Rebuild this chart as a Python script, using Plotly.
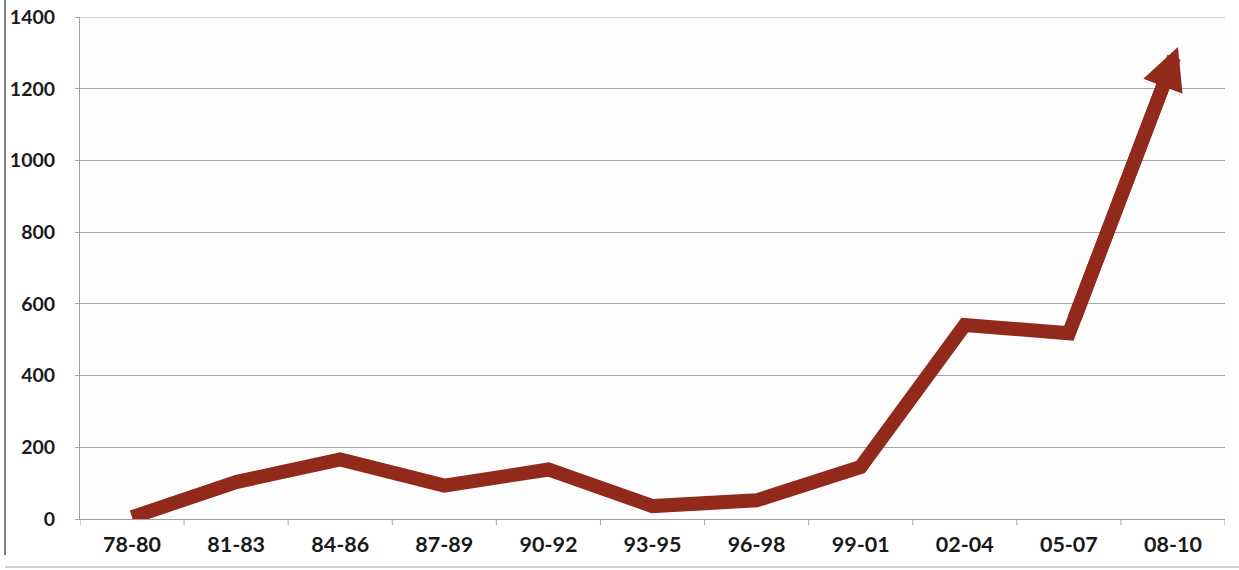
import plotly.graph_objects as go

# Three-year periods and the counts for each
periods = ["78-80", "81-83", "84-86", "87-89", "90-92", "93-95",
           "96-98", "99-01", "02-04", "05-07", "08-10"]
counts = [5, 103, 166, 93, 138, 36, 52, 145, 541, 518, 1280]

y_ticks = [0, 200, 400, 600, 800, 1000, 1200, 1400]

LINE_COLOR = "#922a1c"
LINE_W = 14
GRID = "#a3a3b0"
AXIS = "#a0a0a8"

W, H = 1239, 570
M = dict(l=80, r=14, t=17, b=51)

fig = go.Figure()
fig.add_trace(go.Scatter(
    x=list(range(len(periods))), y=counts, mode="lines",
    line=dict(color=LINE_COLOR, width=LINE_W), hoverinfo="skip",
    showlegend=False,
))

# Arrowhead on the final segment, pushed slightly past the last point
plot_w = W - M["l"] - M["r"]
plot_h = H - M["t"] - M["b"]
dx_px = plot_w / len(periods)
dy_px = (counts[-1] - counts[-2]) * plot_h / y_ticks[-1]
seg = (dx_px ** 2 + dy_px ** 2) ** 0.5
push = 14
fig.add_annotation(
    x=len(periods) - 1, y=counts[-1], ax=len(periods) - 2, ay=counts[-2],
    xref="x", yref="y", axref="x", ayref="y", text="",
    showarrow=True, arrowhead=2, arrowsize=0.6, arrowwidth=LINE_W,
    arrowcolor=LINE_COLOR,
    xshift=push * dx_px / seg, yshift=push * dy_px / seg,
)

fig.update_xaxes(
    type="linear", range=[-0.5, len(periods) - 0.5],
    tickmode="array", tickvals=list(range(len(periods))), ticktext=periods,
    showgrid=False, zeroline=False, automargin=False,
    showline=True, linecolor=AXIS, linewidth=1,
    ticks="", ticklabelstandoff=6,
    tickfont=dict(family="Lato", size=21.5, color="#1a1a1a", weight="bold"),
)
# boundary tick marks between periods
for i in range(len(periods) + 1):
    fig.add_shape(type="line", xref="x", yref="paper",
                  x0=i - 0.5, x1=i - 0.5, y0=0, y1=-6 / plot_h,
                  line=dict(color=AXIS, width=1))

fig.update_yaxes(
    range=[0, y_ticks[-1]], tickmode="array", tickvals=y_ticks,
    showgrid=True, gridcolor=GRID, gridwidth=1,
    zeroline=False, showline=True, linecolor=AXIS, linewidth=1,
    ticks="outside", ticklen=4, tickcolor=AXIS, automargin=False,
    tickfont=dict(family="Lato", size=19.5, color="#1a1a1a", weight="bold"),
    ticklabelstandoff=16,
)
# top gridline at the axis maximum
fig.add_shape(type="line", xref="paper", yref="y",
              x0=-4 / plot_w, x1=1, y0=y_ticks[-1], y1=y_ticks[-1],
              line=dict(color=GRID, width=1), layer="below")

# page border lines
fig.add_shape(type="line", xref="paper", yref="paper",
              x0=-75 / plot_w, x1=-75 / plot_w, y0=-36 / plot_h, y1=1 + 17 / plot_h,
              line=dict(color="#555555", width=1.5))
fig.add_shape(type="line", xref="paper", yref="paper",
              x0=-75 / plot_w, x1=1 + 14 / plot_w, y0=-48 / plot_h, y1=-48 / plot_h,
              line=dict(color="#cfcfcf", width=2))

fig.update_layout(
    width=W, height=H, margin=M,
    plot_bgcolor="#fdfdfd", paper_bgcolor="#ffffff",
    showlegend=False,
)

fig.write_html("out.html")
